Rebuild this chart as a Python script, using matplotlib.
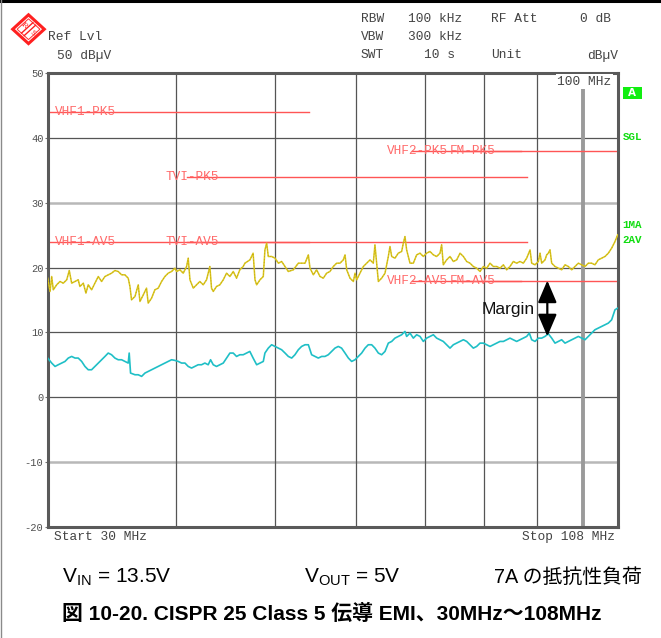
import matplotlib
matplotlib.use("Agg")
import matplotlib.pyplot as plt
from matplotlib.patches import Polygon, Rectangle
from matplotlib.lines import Line2D

plt.rcParams['axes.unicode_minus'] = False
plt.rcParams['mathtext.fontset'] = 'custom'
plt.rcParams['mathtext.rm'] = 'Liberation Sans'
plt.rcParams['mathtext.it'] = 'Liberation Sans:italic'
plt.rcParams['mathtext.bf'] = 'Liberation Sans:bold'

# ---------------- data ----------------
pk_freq = [30.00, 30.16, 30.27, 30.38, 30.61, 30.84, 31.07, 31.31, 31.49, 31.66, 31.90, 32.13, 32.25, 32.50,
           32.69, 32.86, 33.11, 33.36, 33.61, 33.86, 34.12, 34.37, 34.63, 34.89, 35.15, 35.42, 35.68, 35.95,
           36.09, 36.22, 36.50, 36.77, 36.91, 37.19, 37.46, 37.60, 37.89, 38.17, 38.46, 38.75, 39.04, 39.33,
           39.63, 39.93, 40.08, 40.38, 40.68, 40.99, 41.14, 41.30, 41.61, 41.92, 42.23, 42.55, 42.87, 43.19,
           43.35, 43.52, 43.84, 44.17, 44.51, 44.84, 45.18, 45.52, 45.86, 46.20, 46.55, 46.73, 47.26, 47.60,
           47.80, 47.98, 48.34, 48.70, 48.88, 49.07, 49.25, 49.62, 50.00, 50.38, 50.75, 51.14, 51.52, 52.10,
           52.69, 53.08, 53.49, 53.89, 54.09, 54.50, 54.90, 55.32, 55.73, 56.15, 56.57, 57.00, 57.43, 57.86,
           58.29, 58.52, 58.74, 59.18, 59.63, 59.85, 60.07, 60.52, 60.98, 61.43, 61.90, 62.36, 62.59, 62.83,
           63.07, 63.54, 64.02, 64.50, 64.74, 64.99, 65.47, 65.96, 66.46, 66.71, 66.96, 67.21, 67.72, 68.23,
           68.74, 69.26, 69.78, 70.30, 70.83, 71.37, 71.90, 72.44, 72.71, 72.98, 73.53, 74.09, 74.65, 75.21,
           75.78, 76.35, 76.92, 77.49, 78.08, 78.66, 79.26, 79.86, 80.46, 81.06, 81.67, 82.29, 82.90, 83.53,
           84.15, 84.78, 85.42, 86.06, 86.71, 87.36, 88.02, 88.69, 89.02, 89.69, 90.36, 90.70, 91.04, 91.72,
           92.07, 92.41, 92.76, 93.11, 93.81, 94.51, 95.22, 95.94, 96.66, 97.39, 98.12, 98.86, 99.60, 100.35,
           101.10, 101.86, 102.62, 103.39, 104.18, 104.96, 105.75, 106.54, 107.34, 108.00]
pk_level = [18.36, 16.31, 18.62, 16.57, 17.34, 17.85, 17.59, 18.11, 19.54, 17.59, 17.85, 18.11, 17.08, 17.59,
            16.06, 17.34, 16.57, 17.59, 18.62, 17.85, 18.62, 18.88, 19.13, 19.54, 19.39, 18.88, 18.88, 18.36,
            17.08, 15.03, 15.54, 17.34, 14.77, 15.80, 16.83, 14.52, 15.29, 16.57, 16.83, 17.85, 18.62, 19.13,
            19.39, 19.90, 19.39, 19.65, 19.13, 20.16, 21.44, 18.11, 16.83, 17.34, 17.85, 17.34, 18.11, 20.16,
            16.83, 16.31, 17.08, 17.34, 18.11, 19.13, 18.62, 19.39, 18.36, 19.65, 20.16, 20.67, 21.18, 22.21,
            18.11, 17.34, 18.11, 18.62, 22.72, 23.75, 21.70, 21.70, 21.44, 20.67, 20.93, 20.16, 19.39, 19.65,
            20.67, 20.67, 20.67, 21.95, 19.90, 18.88, 19.65, 18.62, 18.36, 19.13, 19.39, 20.16, 20.67, 20.67,
            21.18, 21.95, 19.65, 18.36, 17.85, 19.13, 18.11, 19.13, 20.16, 20.67, 21.18, 20.67, 23.50, 20.67,
            17.85, 18.36, 19.13, 21.70, 23.24, 21.70, 21.44, 22.21, 22.47, 23.75, 24.77, 22.72, 20.67, 20.67,
            21.95, 22.21, 21.70, 22.21, 22.47, 21.95, 21.70, 22.21, 23.50, 20.42, 21.18, 21.70, 20.93, 21.18,
            22.21, 21.70, 20.93, 20.67, 20.16, 19.90, 19.39, 20.16, 19.90, 20.67, 20.16, 20.16, 19.90, 20.42,
            19.65, 20.16, 20.93, 20.67, 20.93, 20.67, 21.44, 22.72, 20.67, 20.42, 20.93, 22.21, 20.67, 21.18,
            21.95, 22.21, 22.72, 20.67, 20.16, 19.90, 19.65, 20.42, 20.16, 19.65, 20.16, 20.67, 20.42, 20.16,
            20.67, 20.67, 20.42, 21.18, 21.44, 21.70, 22.21, 22.98, 24.00, 25.03]

av_freq = [30.00, 30.27, 30.50, 30.72, 30.96, 31.19, 31.42, 31.66, 31.90, 32.13, 32.38, 32.62, 32.86, 33.11,
           33.36, 33.61, 33.86, 34.12, 34.37, 34.63, 34.89, 35.15, 35.42, 35.68, 35.95, 36.03, 36.14, 36.50,
           36.77, 37.05, 37.33, 37.60, 37.89, 38.17, 38.46, 38.75, 39.04, 39.33, 39.63, 39.93, 40.23, 40.53,
           40.84, 41.14, 41.45, 41.76, 42.07, 42.39, 42.71, 43.03, 43.26, 43.52, 43.84, 44.17, 44.51, 44.84,
           45.18, 45.52, 45.86, 46.20, 46.55, 46.90, 47.25, 47.60, 47.98, 48.34, 48.70, 48.88, 49.25, 49.62,
           50.00, 50.38, 50.75, 51.14, 51.52, 51.91, 52.29, 52.69, 53.08, 53.49, 53.89, 54.29, 54.70, 55.11,
           55.53, 55.94, 56.36, 56.79, 57.21, 57.64, 58.07, 58.52, 58.96, 59.40, 59.85, 60.30, 60.75, 61.21,
           61.66, 62.13, 62.59, 63.07, 63.54, 64.02, 64.50, 64.99, 65.47, 65.96, 66.46, 66.96, 67.21, 67.72,
           68.23, 68.74, 69.26, 69.78, 70.30, 70.83, 71.37, 71.90, 72.44, 72.98, 73.53, 74.09, 74.65, 75.21,
           75.78, 76.35, 76.92, 77.49, 78.08, 78.66, 79.26, 79.86, 80.46, 81.06, 81.67, 82.29, 82.90, 83.53,
           84.15, 84.78, 85.42, 86.06, 86.71, 87.36, 88.02, 88.55, 89.02, 89.69, 90.36, 91.04, 91.72, 92.41,
           93.11, 93.81, 94.51, 95.22, 95.94, 96.66, 97.39, 98.12, 98.86, 99.60, 100.35, 101.10, 101.86, 102.62,
           103.39, 104.18, 104.96, 105.75, 106.54, 107.34, 108.00]
av_level = [6.06, 5.29, 4.77, 5.03, 5.29, 5.54, 6.06, 6.31, 6.06, 6.06, 5.54, 4.77, 4.26, 4.26,
            4.77, 5.29, 5.80, 6.31, 6.83, 6.57, 6.06, 5.80, 5.80, 5.54, 5.29, 6.83, 3.75, 3.49,
            3.49, 3.24, 3.75, 4.00, 4.26, 4.52, 4.77, 5.03, 5.29, 5.54, 5.80, 5.70, 5.54, 5.29,
            5.29, 4.77, 4.52, 4.77, 5.03, 5.03, 5.29, 5.03, 5.80, 5.03, 4.77, 5.03, 5.29, 6.06,
            6.83, 6.83, 6.31, 6.57, 6.57, 6.83, 7.08, 6.06, 5.03, 5.29, 5.54, 6.83, 7.59, 8.11,
            7.85, 7.59, 7.34, 6.83, 6.31, 6.06, 6.57, 7.34, 7.85, 8.11, 8.11, 6.57, 6.31, 6.06,
            6.31, 6.31, 6.57, 7.08, 7.59, 7.85, 7.59, 6.83, 6.06, 5.54, 5.80, 6.31, 6.83, 7.59,
            8.11, 8.11, 7.59, 6.83, 6.57, 7.08, 8.36, 8.62, 9.13, 9.39, 9.65, 10.16, 9.39, 9.90,
            9.13, 9.65, 9.39, 8.62, 9.13, 9.39, 9.65, 9.13, 8.88, 8.62, 8.11, 7.59, 8.11, 8.36,
            8.62, 8.88, 8.62, 8.11, 7.59, 7.85, 8.36, 8.36, 8.11, 7.85, 8.11, 8.36, 8.62, 8.62,
            8.88, 9.13, 8.88, 8.62, 8.88, 9.13, 9.39, 9.90, 8.88, 8.62, 9.13, 9.13, 9.39, 9.80,
            9.13, 8.36, 8.62, 8.88, 8.36, 8.62, 8.88, 9.13, 9.39, 9.13, 8.88, 9.39, 9.90, 10.42,
            10.67, 10.93, 11.18, 11.44, 11.95, 13.49, 13.75]

limit_names = ['VHF1-PK5', 'VHF1-AV5', 'TVI-PK5', 'TVI-AV5', 'VHF2-PK5', 'VHF2-AV5', 'FM-PK5', 'FM-AV5']
limit_start = [30, 30, 41, 41, 68, 68, 76, 76]
limit_stop = [54, 54, 88, 88, 87, 87, 108, 108]
limit_level = [44, 24, 34, 24, 38, 18, 38, 18]
limit_label_freq = [30.5, 30.5, 39.13, 39.13, 64.31, 64.31, 74.0, 74.0]

y_ticks = [50, 40, 30, 20, 10, 0, -10, -20]
y_tick_labels = ['50', '40', '30', '20', '10', '0', '-10', '-20']
light_hlines = [30, -10]
x_grid = [40, 50, 60, 70, 80, 90]
marker_freq = 100
f_start, f_stop = 30, 108
ref_level, bottom_level = 50, -20

margin_freq = 92.2
margin_top, margin_bottom = 18.0, 9.4

# ---------------- figure ----------------
W, H = 661, 638
fig = plt.figure(figsize=(W / 100, H / 100), dpi=100)
fig.patch.set_facecolor('white')

ax_l, ax_r, ax_t, ax_b = 47.7, 617.7, 72.7, 527.3
ax = fig.add_axes([ax_l / W, 1 - ax_b / H, (ax_r - ax_l) / W, (ax_b - ax_t) / H])
ax.set_xscale('log')
ax.set_xlim(f_start, f_stop)
ax.set_ylim(bottom_level, ref_level)
ax.minorticks_off()
ax.set_xticks([])
ax.set_yticks(y_ticks)
ax.set_yticklabels(y_tick_labels, family='Liberation Mono', fontsize=7.5, color='#505050')
ax.tick_params(axis='y', length=2.5, width=0.8, color='#707070', pad=0.5)
for s in ax.spines.values():
    s.set_color('#5a5a5a')
    s.set_linewidth(2.2)

for v in y_ticks[1:-1]:
    if v in light_hlines:
        ax.axhline(v, color='#b8b8b8', lw=1.8, zorder=1)
    else:
        ax.axhline(v, color='#555555', lw=0.9, zorder=1)
for f in x_grid:
    ax.axvline(f, color='#555555', lw=0.9, zorder=1)
ax.plot([marker_freq, marker_freq], [bottom_level, 47.8], color='#9a9a9a', lw=2.8, zorder=1.5)
ax.plot([marker_freq, marker_freq], [49.4, ref_level], color='#9a9a9a', lw=2.8, zorder=1.5)

# limit lines
for name, fs, fe, lv, lf in zip(limit_names, limit_start, limit_stop, limit_level, limit_label_freq):
    ax.plot([fs, fe], [lv, lv], color='#ff5555', lw=1.0, zorder=2)
    ax.text(lf, lv, name, family='Liberation Mono', fontsize=9.2, color='#ff6a6a',
            ha='left', va='center', zorder=2.5)

# traces
ax.plot(pk_freq, pk_level, color='#d9c81e', lw=1.1, zorder=3)
ax.plot(pk_freq, pk_level, color='#c49a10', lw=0.6, ls=(0, (1, 2.5)), zorder=3.1)
ax.plot(av_freq, av_level, color='#1fbfc6', lw=1.2, zorder=3)

# margin arrow
ax.annotate('', xy=(margin_freq, margin_bottom), xytext=(margin_freq, margin_top),
            arrowprops=dict(arrowstyle='<|-|>,head_length=0.75,head_width=0.32', color='black',
                            lw=1.6, mutation_scale=18, shrinkA=0, shrinkB=0), zorder=4)
ax.text(89.6, 13.6, 'Margin', family='Liberation Sans', fontsize=12.5, color='#111111',
        ha='right', va='center', zorder=4)

# ---------------- overlay (pixel coords) ----------------
ov = fig.add_axes([0, 0, 1, 1], zorder=5)
ov.set_xlim(0, W)
ov.set_ylim(H, 0)
ov.axis('off')
ov.patch.set_alpha(0)

ov.add_line(Line2D([0, W], [0.8, 0.8], color='black', lw=2.2))
ov.add_line(Line2D([1.2, 1.2], [0, H], color='#8a8a8a', lw=1.0))

# R&S logo
cx, cy, hw, hh = 28.5, 29.2, 15.8, 14.4
ov.add_patch(Polygon([(cx - hw, cy), (cx, cy - hh), (cx + hw, cy), (cx, cy + hh)], closed=True,
                     facecolor='white', edgecolor='#ff2020', lw=2.2))
k = 0.72
ov.add_patch(Polygon([(cx - hw * k, cy), (cx, cy - hh * k), (cx + hw * k, cy), (cx, cy + hh * k)],
                     closed=True, facecolor='none', edgecolor='#ff3030', lw=0.7))
for off in (-1.3, 1.3):
    ov.add_line(Line2D([cx + hw * 0.36 + off, cx - hw * 0.36 + off],
                       [cy - hh * 0.36 + off, cy + hh * 0.36 + off], color='#ff2020', lw=1.0))
ov.text(cx - 4.2, cy - 4.4, 'R', color='#ff2020', fontsize=5.2, family='DejaVu Serif',
        ha='center', va='center', rotation=-40)
ov.text(cx + 4.2, cy + 4.2, 'S', color='#ff2020', fontsize=5.2, family='DejaVu Serif',
        ha='center', va='center', rotation=-40)

mono = dict(family='Liberation Mono', fontsize=9.3, color='#444444', va='center', ha='left')
ov.text(48.3, 37.3, 'Ref Lvl', **mono)
ov.text(57.3, 55.5, '50 dBµV', **mono)
ov.text(360.5, 19.3, 'RBW', **mono)
ov.text(408, 19.3, '100 kHz', **mono)
ov.text(491, 19.3, 'RF Att', **mono)
ov.text(579.7, 19.3, '0 dB', **mono)
ov.text(360.5, 37.3, 'VBW', **mono)
ov.text(408, 37.3, '300 kHz', **mono)
ov.text(360.5, 55.5, 'SWT', **mono)
ov.text(423.7, 55.5, '10 s', **mono)
ov.text(491, 55.5, 'Unit', **mono)
ov.text(586.8, 55.5, 'dBµV', **mono)

ov.text(611.5, 81.7, '100 MHz', family='Liberation Mono', fontsize=9.3, color='#444444',
        ha='right', va='center',
        bbox=dict(boxstyle='square,pad=0.1', facecolor='white', edgecolor='none'))
ov.text(54, 537.3, 'Start 30 MHz', **mono)
ov.text(615.5, 537.3, 'Stop 108 MHz', family='Liberation Mono', fontsize=9.3, color='#444444',
        va='center', ha='right')

# status labels
ov.add_patch(Rectangle((622.5, 87.3), 19.5, 11.5, facecolor='#11ee11', edgecolor='none'))
ov.text(632.2, 93.2, 'A', color='white', fontsize=7.5, family='DejaVu Sans', weight='bold',
        ha='center', va='center')
grn = dict(family='Liberation Mono', fontsize=7.8, color='#11dd11', weight='bold', ha='left', va='center')
ov.text(622.5, 136.7, 'SGL', **grn)
ov.text(622.5, 225.3, '1MA', **grn)
ov.text(622.5, 240.0, '2AV', **grn)

# bottom texts
fam = ['Liberation Sans', 'Noto Sans CJK JP']
ov.text(61.7, 582.7, r'V$_{\mathrm{IN}}$ = 13.5V', family=fam, fontsize=15, color='black',
        ha='left', va='baseline')
ov.text(303.5, 582.7, r'V$_{\mathrm{OUT}}$ = 5V', family=fam, fontsize=15, color='black',
        ha='left', va='baseline')
ov.text(494, 582.7, '7A の抵抗性負荷', family=fam, fontsize=14.3, color='black',
        ha='left', va='baseline')
ov.text(61.7, 620, '図 10-20. CISPR 25 Class 5 伝導 EMI、30MHz〜108MHz', family=fam,
        fontsize=15, weight='bold', color='black', ha='left', va='baseline')

fig.savefig('out.png', dpi=100)
